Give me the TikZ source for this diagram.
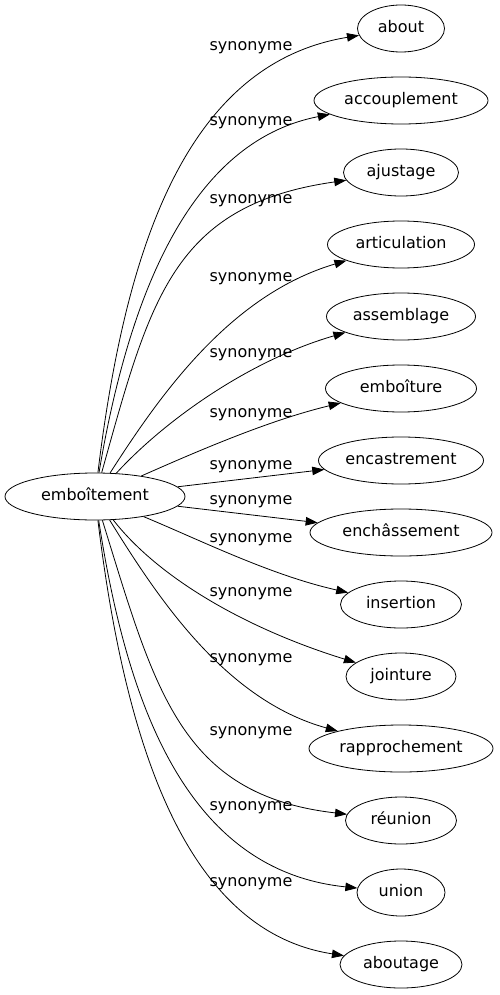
\documentclass[tikz,border=0pt]{standalone}
\usepackage{fontspec}
\setmainfont{DejaVu Sans}
\usetikzlibrary{shapes.geometric}
\usetikzlibrary{arrows.meta}

\begin{document}
\begin{tikzpicture}
  [
    x=1pt, y=-1pt,
    every node/.style={font=\fontsize{16}{19}\selectfont, text height=12pt, text depth=4pt},
    word/.style = {draw, ellipse, inner sep=0pt, minimum height=47pt, line width=0.8pt},
    syn/.style  = {inner sep=0pt},
    rel/.style  = {-{Triangle[length=12pt,width=8.5pt]}, line width=0.8pt},
  ]

  \useasboundingbox (0,0) rectangle (499,995);

  % the head word
  \node (root) [word, minimum width=180pt] at (95,496.5) {emboîtement};

  % the synonyms
  \node (about) [word, minimum width=87pt] at (401,28.5) {about};
  \node (accouplement) [word, minimum width=174pt] at (401,100.5) {accouplement};
  \node (ajustage) [word, minimum width=115pt] at (401,172.5) {ajustage};
  \node (articulation) [word, minimum width=147pt] at (401,244.5) {articulation};
  \node (assemblage) [word, minimum width=149pt] at (401,316.5) {assemblage};
  \node (emboiture) [word, minimum width=151pt] at (401,388.5) {emboîture};
  \node (encastrement) [word, minimum width=165pt] at (401,460.5) {encastrement};
  \node (enchassement) [word, minimum width=182pt] at (401,532.5) {enchâssement};
  \node (insertion) [word, minimum width=121pt] at (401,604.5) {insertion};
  \node (jointure) [word, minimum width=110pt] at (401,676.5) {jointure};
  \node (rapprochement) [word, minimum width=184pt] at (401,748.5) {rapprochement};
  \node (reunion) [word, minimum width=111pt] at (401,820.5) {réunion};
  \node (union) [word, minimum width=88pt] at (401,892.5) {union};
  \node (aboutage) [word, minimum width=122pt] at (401,964.5) {aboutage};

  % edge labels
  \foreach \ly [count=\i] in {47,122,199.5,277.5,353,413,465,500.5,538,592,658,731,806,882.5}
    \node (syn\i) [syn] at (251,\ly) {synonyme};

  % edges, upper fan
  \draw[rel] (root) .. controls (125,250) and (185,64) .. (about);
  \draw[rel] (root) .. controls (128,300) and (188,142) .. (accouplement);
  \draw[rel] (root) .. controls (150,300) and (172,205) .. (ajustage);
  \draw[rel] (root) .. controls (160,395) and (230,295) .. (articulation);
  \draw[rel] (root) .. controls (165,420) and (250,360) .. (assemblage);
  \draw[rel] (root) .. controls (200,450) and (270,420) .. (emboiture);
  \draw[rel] (root) -- (encastrement);

  % edges, lower fan
  \draw[rel] (root) -- (enchassement);
  \draw[rel] (root) .. controls (200,540) and (270,575) .. (insertion);
  \draw[rel] (root) .. controls (160,580) and (250,630) .. (jointure);
  \draw[rel] (root) .. controls (158,598) and (225,700) .. (rapprochement);
  \draw[rel] (root) .. controls (155,690) and (180,795) .. (reunion);
  \draw[rel] (root) .. controls (125,690) and (180,870) .. (union);
  \draw[rel] (root) .. controls (125,743) and (185,931) .. (aboutage);
\end{tikzpicture}
\end{document}
